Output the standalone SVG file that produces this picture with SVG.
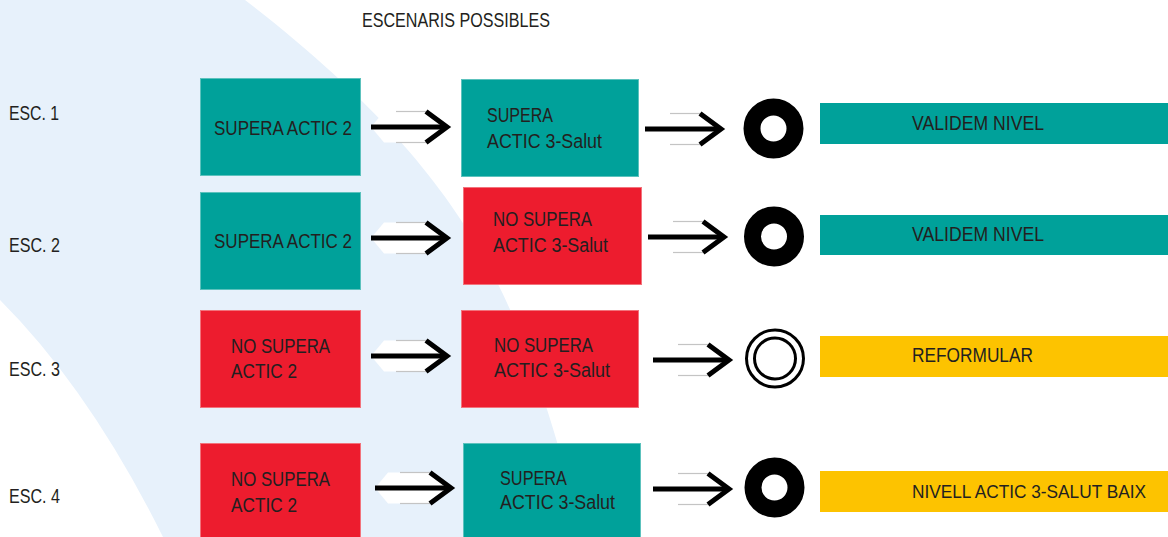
<svg xmlns="http://www.w3.org/2000/svg" xmlns:xlink="http://www.w3.org/1999/xlink" width="1168" height="537" viewBox="0 0 1168 537">
  <style>
    .t { font-family: "Liberation Sans", Arial, sans-serif; font-size: 19.5px; fill: #231F20; }
    .teal { fill: #00A19A; stroke: #5CC2BD; stroke-width: 1; }
    .red { fill: #ED1C2E; stroke: #F2737C; stroke-width: 1; }
    .tealbar { fill: #00A19A; }
    .yellowbar { fill: #FDC300; }
    .ring { fill: none; stroke: #000; stroke-width: 17; }
    .dring { fill: none; stroke: #000; stroke-width: 3; }
  </style>
  <defs>
    <g id="arr">
      <polygon points="0,0 13,-15.5 55,-15.5 78,0 55,15.5 13,15.5" fill="#FFFFFF"/>
      <line x1="25" y1="-15.5" x2="56" y2="-15.5" stroke="#C4C4C4" stroke-width="1.2"/>
      <line x1="25" y1="15.5" x2="56" y2="15.5" stroke="#C4C4C4" stroke-width="1.2"/>
      <line x1="0" y1="0" x2="74" y2="0" stroke="#000" stroke-width="5"/>
      <polyline points="55,-15.5 76,0 55,15.5" fill="none" stroke="#000" stroke-width="5" stroke-miterlimit="6"/>
    </g>
  </defs>

  <rect x="0" y="0" width="1168" height="537" fill="#FFFFFF"/>
  <path d="M0,0 L245,0 C505,200 525,337 585,537 L163,537 Q90,390 0,300 Z" fill="#E7F1FB"/>

  <text class="t" x="362" y="27" textLength="188" lengthAdjust="spacingAndGlyphs">ESCENARIS POSSIBLES</text>

  <g id="labels">
    <text class="t" x="9" y="120" textLength="50" lengthAdjust="spacingAndGlyphs">ESC. 1</text>
    <text class="t" x="9" y="252" textLength="51" lengthAdjust="spacingAndGlyphs">ESC. 2</text>
    <text class="t" x="9" y="376" textLength="51" lengthAdjust="spacingAndGlyphs">ESC. 3</text>
    <text class="t" x="9" y="503" textLength="51" lengthAdjust="spacingAndGlyphs">ESC. 4</text>
  </g>

  <g id="connectors">
    <use xlink:href="#arr" href="#arr" x="371" y="127"/>
    <use xlink:href="#arr" href="#arr" x="645" y="129"/>
    <use xlink:href="#arr" href="#arr" x="371" y="238"/>
    <use xlink:href="#arr" href="#arr" x="648" y="237"/>
    <use xlink:href="#arr" href="#arr" x="371" y="356"/>
    <use xlink:href="#arr" href="#arr" x="653" y="360"/>
    <use xlink:href="#arr" href="#arr" x="375" y="488"/>
    <use xlink:href="#arr" href="#arr" x="653" y="489"/>
  </g>

  <!-- Row 1 -->
  <g id="r1a">
    <rect class="teal" x="200.5" y="78.5" width="160" height="97"/>
    <text class="t" x="214" y="135" textLength="138" lengthAdjust="spacingAndGlyphs">SUPERA ACTIC 2</text>
  </g>
  <g id="r1b">
    <rect class="teal" x="461.5" y="79.5" width="177" height="97"/>
    <text class="t" x="487" y="122" textLength="66" lengthAdjust="spacingAndGlyphs">SUPERA</text>
    <text class="t" x="487" y="148" textLength="115" lengthAdjust="spacingAndGlyphs">ACTIC 3-Salut</text>
  </g>
  <g id="r1c"><circle class="ring" cx="773.5" cy="128.5" r="21.5"/></g>
  <g id="r1d">
    <rect class="tealbar" x="820" y="103" width="348" height="41"/>
    <text class="t" x="912" y="130" textLength="132" lengthAdjust="spacingAndGlyphs">VALIDEM NIVEL</text>
  </g>

  <!-- Row 2 -->
  <g id="r2a">
    <rect class="teal" x="200.5" y="192.5" width="160" height="97"/>
    <text class="t" x="214" y="248" textLength="138" lengthAdjust="spacingAndGlyphs">SUPERA ACTIC 2</text>
  </g>
  <g id="r2b">
    <rect class="red" x="463.5" y="187.5" width="178" height="97"/>
    <text class="t" x="493" y="226" textLength="99" lengthAdjust="spacingAndGlyphs">NO SUPERA</text>
    <text class="t" x="493" y="252" textLength="115" lengthAdjust="spacingAndGlyphs">ACTIC 3-Salut</text>
  </g>
  <g id="r2c"><circle class="ring" cx="774" cy="236.5" r="21.5"/></g>
  <g id="r2d">
    <rect class="tealbar" x="820" y="215" width="348" height="40"/>
    <text class="t" x="912" y="241" textLength="132" lengthAdjust="spacingAndGlyphs">VALIDEM NIVEL</text>
  </g>

  <!-- Row 3 -->
  <g id="r3a">
    <rect class="red" x="200.5" y="310.5" width="160" height="97"/>
    <text class="t" x="231" y="353" textLength="99" lengthAdjust="spacingAndGlyphs">NO SUPERA</text>
    <text class="t" x="231" y="378" textLength="66" lengthAdjust="spacingAndGlyphs">ACTIC 2</text>
  </g>
  <g id="r3b">
    <rect class="red" x="461.5" y="310.5" width="177" height="97"/>
    <text class="t" x="494" y="352" textLength="99" lengthAdjust="spacingAndGlyphs">NO SUPERA</text>
    <text class="t" x="494" y="377" textLength="116" lengthAdjust="spacingAndGlyphs">ACTIC 3-Salut</text>
  </g>
  <g id="r3c">
    <circle class="dring" cx="775" cy="358.5" r="28.5"/>
    <circle class="dring" cx="775" cy="358.5" r="20.5"/>
  </g>
  <g id="r3d">
    <rect class="yellowbar" x="820" y="336" width="348" height="41"/>
    <text class="t" x="912" y="362" textLength="121" lengthAdjust="spacingAndGlyphs">REFORMULAR</text>
  </g>

  <!-- Row 4 -->
  <g id="r4a">
    <rect class="red" x="200.5" y="443.5" width="160" height="100"/>
    <text class="t" x="231" y="486" textLength="99" lengthAdjust="spacingAndGlyphs">NO SUPERA</text>
    <text class="t" x="231" y="512" textLength="66" lengthAdjust="spacingAndGlyphs">ACTIC 2</text>
  </g>
  <g id="r4b">
    <rect class="teal" x="463.5" y="443.5" width="177" height="100"/>
    <text class="t" x="500" y="485" textLength="67" lengthAdjust="spacingAndGlyphs">SUPERA</text>
    <text class="t" x="500" y="509" textLength="115" lengthAdjust="spacingAndGlyphs">ACTIC 3-Salut</text>
  </g>
  <g id="r4c"><circle class="ring" cx="774.5" cy="487.5" r="21.5"/></g>
  <g id="r4d">
    <rect class="yellowbar" x="820" y="471" width="348" height="41"/>
    <text class="t" x="912" y="498" style="font-size:18px" textLength="234" lengthAdjust="spacingAndGlyphs">NIVELL ACTIC 3-SALUT BAIX</text>
  </g>
</svg>
